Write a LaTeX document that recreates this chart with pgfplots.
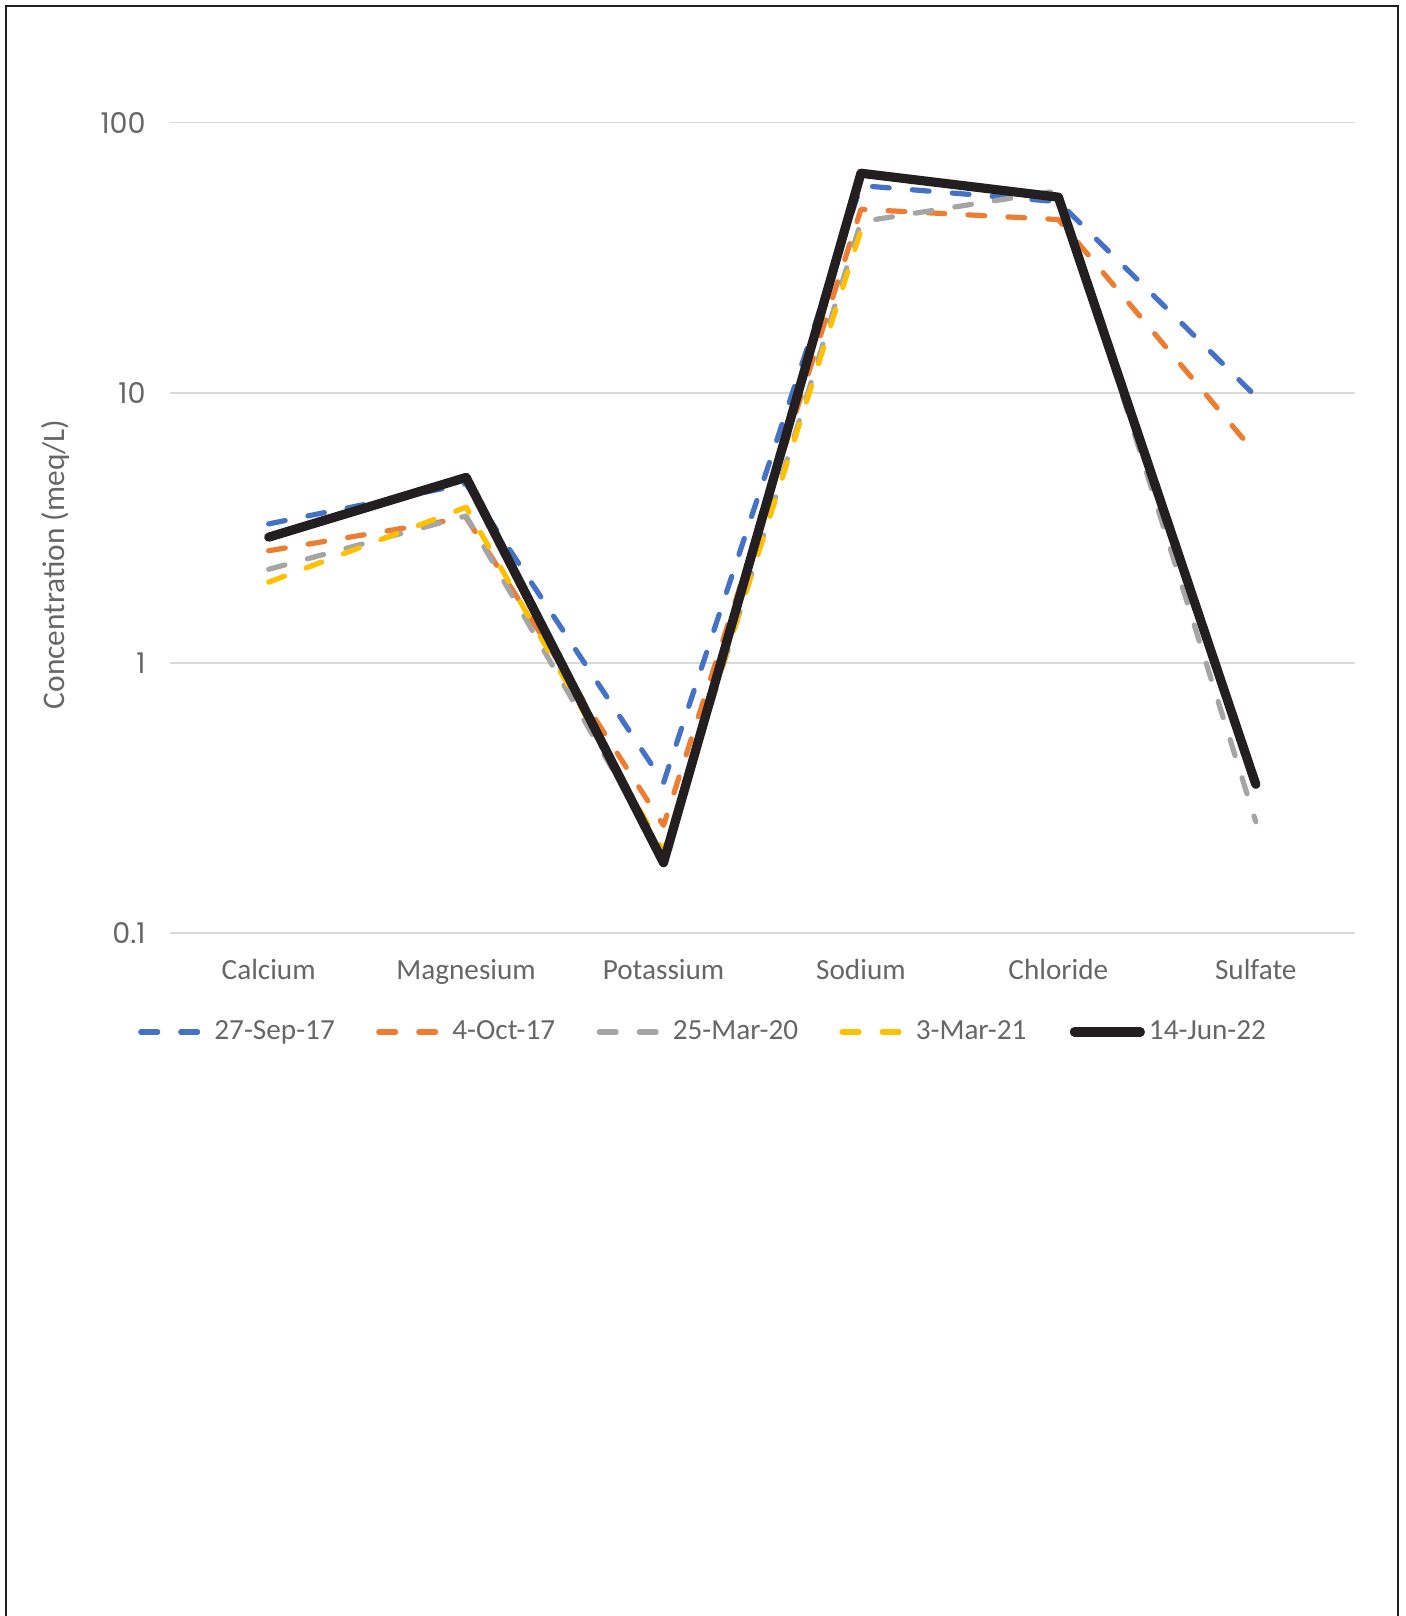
\documentclass[border=0pt]{standalone}
\usepackage{pgfplots}
\pgfplotsset{compat=1.18}
\usepackage{fontspec}
\setmainfont{Carlito}
\newfontfamily\tickfont{Poppins}
\definecolor{cblue}{HTML}{4472C4}
\definecolor{corange}{HTML}{ED7D31}
\definecolor{cgray}{HTML}{A5A5A5}
\definecolor{cyellow}{HTML}{FFC000}
\definecolor{cblack}{HTML}{231F20}
\definecolor{txtgray}{HTML}{666666}
\definecolor{gridgray}{HTML}{D9D9D9}
\begin{document}
\begin{tikzpicture}
\useasboundingbox (0pt,0pt) rectangle (702.5pt,-808pt);
\draw[line width=1.1pt, cblack] (3pt,-820pt) -- (3pt,-3pt) -- (699pt,-3pt) -- (699pt,-820pt);
\begin{axis}[
  at={(85pt,-466.45pt)}, anchor=south west,
  width=592.25pt, height=405.1pt, scale only axis,
  ymode=log, ymin=0.1, ymax=100,
  xmin=-0.5, xmax=5.5,
  xtick={0,1,2,3,4,5},
  xticklabels={Calcium,Magnesium,Potassium,Sodium,Chloride,Sulfate},
  ytick={0.1,1,10,100},
  yticklabels={0.1,1,10,100},
  axis line style={draw=none},
  tick style={draw=none},
  ymajorgrids, xmajorgrids=false,
  major grid style={gridgray, line width=0.75pt},
  xticklabel style={font=\fontsize{14.6}{16}\selectfont, text=txtgray, anchor=north, inner sep=0pt, yshift=-13pt},
  yticklabel style={font=\tickfont\fontsize{14.3}{16}\selectfont, text=txtgray, anchor=east, inner sep=0pt, xshift=-12pt},
  ylabel={Concentration (meq/L)},
  ylabel style={font=\fontsize{15.7}{17}\selectfont, text=txtgray, at={(axis description cs:-0.097,0.455)}, anchor=center},
  legend columns=5,
  legend style={draw=none, fill=none, inner sep=0pt, outer sep=0pt,
    at={(axis description cs:-0.029,-0.1222)}, anchor=west,
    font=\fontsize{14.6}{16}\selectfont, text=txtgray,
    /tikz/every even column/.append style={column sep=19.4pt},
    nodes={inner sep=0pt}},
  legend image code/.code={\draw[#1] (0pt,0pt) -- (28.4pt,0pt); \path (-1.3pt,0pt) (35.5pt,0pt);},
  every axis plot/.append style={line join=round, line cap=round},
  dsh/.style={line width=2.6pt, dash pattern=on 8.4pt off 11.6pt},
  blackleg/.style={legend image code/.code={\draw[cblack, line width=4.6pt, line cap=round] (1pt,0pt) -- (34pt,0pt); \path (-1.3pt,0pt) (36pt,0pt);}},
]
\addplot[cblue, dsh] coordinates {(0,3.27) (1,4.6) (2,0.36) (3,58.5) (4,51) (5,9.7)};
\addlegendentry{27-Sep-17}
\addplot[corange, dsh] coordinates {(0,2.6) (1,3.45) (2,0.25) (3,47.8) (4,43.8) (5,5.95)};
\addlegendentry{4-Oct-17}
\addplot[cgray, dsh] coordinates {(0,2.22) (1,3.5) (2,0.19) (3,43) (4,56) (5,0.258)};
\addlegendentry{25-Mar-20}
\addplot[cyellow, dsh] coordinates {(0,1.99) (1,3.77) (2,0.2) (3,40)};
\addlegendentry{3-Mar-21}
\addplot[cblack, line width=4.6pt, blackleg]
  coordinates {(0,2.92) (1,4.86) (2,0.182) (3,65) (4,53) (5,0.355)};
\addlegendentry{14-Jun-22}
\end{axis}
\end{tikzpicture}
\end{document}
